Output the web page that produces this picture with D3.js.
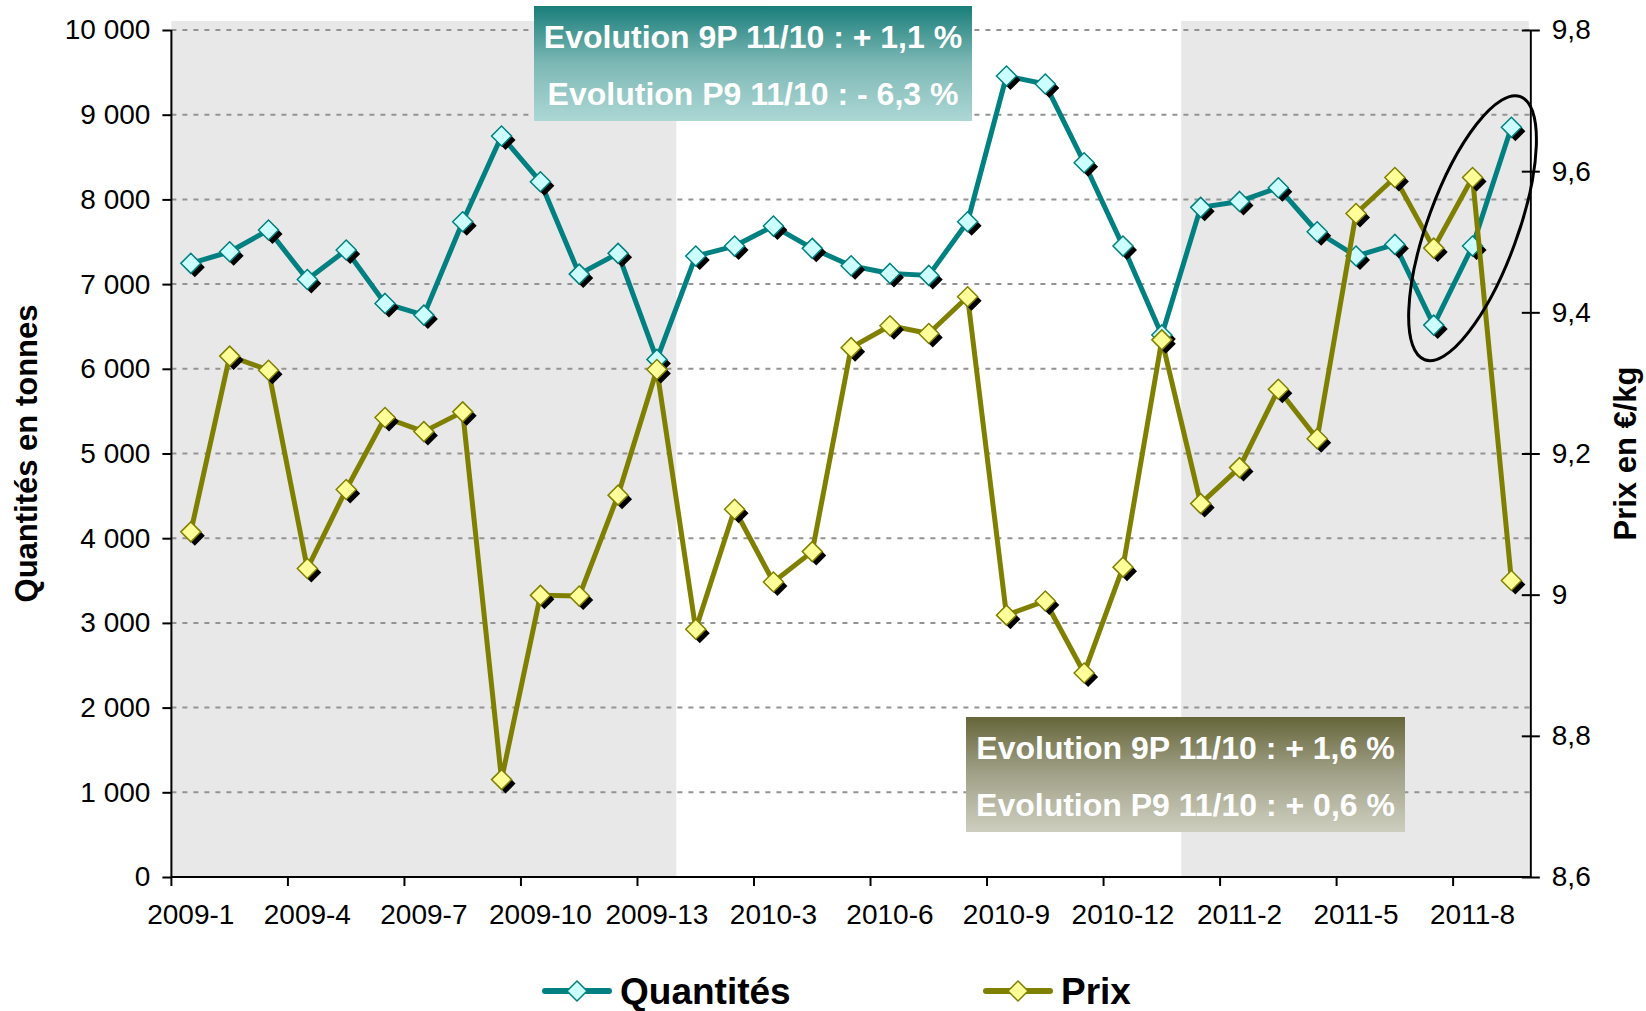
<!DOCTYPE html>
<html>
<head>
<meta charset="utf-8">
<script src="https://cdn.jsdelivr.net/npm/d3@7"></script>
<style>
  html, body { margin: 0; padding: 0; background: #ffffff; }
  svg { display: block; font-family: "Liberation Sans", Arial, sans-serif; }
</style>
</head>
<body>
<svg id="chart" width="1646" height="1011"></svg>
<script>
// Four-week periods, 13 per year
const periods = [
  "2009-1","2009-2","2009-3","2009-4","2009-5","2009-6","2009-7","2009-8","2009-9","2009-10","2009-11","2009-12","2009-13",
  "2010-1","2010-2","2010-3","2010-4","2010-5","2010-6","2010-7","2010-8","2010-9","2010-10","2010-11","2010-12","2010-13",
  "2011-1","2011-2","2011-3","2011-4","2011-5","2011-6","2011-7","2011-8","2011-9"
];
// Volumes in tonnes (left axis)
const quantites = [
  7245, 7382, 7638, 7055, 7402, 6772, 6634, 7736, 8748, 8209, 7118, 7363, 6111,
  7331, 7449, 7685, 7422, 7216, 7126, 7103, 7736, 9457, 9362, 8433, 7449, 6400,
  7906, 7976, 8138, 7618, 7331, 7469, 6516, 7449, 8851
];
// Price in €/kg (right axis)
const prix = [
  9.089, 9.338, 9.318, 9.037, 9.149, 9.251, 9.231, 9.259, 8.738, 8.999, 8.998, 9.141, 9.319,
  8.951, 9.121, 9.018, 9.061, 9.350, 9.381, 9.370, 9.422, 8.971, 8.991, 8.889, 9.039, 9.361,
  9.129, 9.180, 9.291, 9.221, 9.540, 9.591, 9.491, 9.591, 9.020
];
const leftTicks = [0, 1000, 2000, 3000, 4000, 5000, 6000, 7000, 8000, 9000, 10000];
const rightTicks = [8.6, 8.8, 9, 9.2, 9.4, 9.6, 9.8];
const labelledPeriods = periods.filter((d, i) => i % 3 === 0);
const shadedYears = ["2009", "2011"];
const boxQuantites = ["Evolution 9P 11/10 : + 1,1 %", "Evolution P9 11/10 : - 6,3 %"];
const boxPrix = ["Evolution 9P 11/10 : + 1,6 %", "Evolution P9 11/10 : + 0,6 %"];
const seriesNames = ["Quantités", "Prix"];
// highlighted recent periods (ring centre: period, tonnes)
const highlight = ["2011-8", 7660];

const svg = d3.select("#chart");
const L = 171.4, R = 1530.8, T = 30, B = 877;

const x = d3.scaleBand().domain(periods).range([L, R]).padding(0);
const cx = d => x(d) + x.bandwidth() / 2;
const yL = d3.scaleLinear().domain([0, 10000]).range([B, T]);
const yR = d3.scaleLinear().domain([8.6, 9.8]).range([B, T]);

const teal = "#008080", olive = "#808000";
const FONT = "Liberation Sans, Arial, sans-serif";

// shaded years
shadedYears.forEach(yr => {
  const ps = periods.filter(p => p.startsWith(yr));
  const x0 = x(ps[0]), x1 = x(ps[ps.length - 1]) + x.bandwidth();
  svg.append("rect").attr("x", x0).attr("y", T - 9).attr("width", Math.min(x1, R - 2) - x0)
    .attr("height", B - T + 9).attr("fill", "#e8e8e8");
});

// gridlines
svg.append("g").selectAll("line").data(leftTicks.filter(d => d > 0)).join("line")
  .attr("x1", L).attr("x2", R).attr("y1", d => yL(d)).attr("y2", d => yL(d))
  .attr("stroke", "#939393").attr("stroke-width", 2).attr("stroke-dasharray", "5,6");

// left axis
const fmtL = d => d3.format(",")(d).replace(/,/g, " ");
const gL = svg.append("g").attr("transform", `translate(${L},0)`)
  .call(d3.axisLeft(yL).tickValues(leftTicks).tickFormat(fmtL).tickSize(9).tickPadding(12));
gL.select(".domain").attr("stroke", "#000").attr("stroke-width", 2).attr("d", `M0,${T}V${B}`);
gL.selectAll(".tick line").attr("stroke", "#000").attr("stroke-width", 2);
gL.selectAll(".tick text").attr("font-size", 28).attr("fill", "#000").attr("font-family", FONT);

// right axis
const fmtR = d => d3.format("~g")(d).replace(".", ",");
const gR = svg.append("g").attr("transform", `translate(${R},0)`)
  .call(d3.axisRight(yR).tickValues(rightTicks).tickFormat(fmtR).tickSizeInner(9).tickSizeOuter(0).tickPadding(12));
gR.select(".domain").attr("stroke", "#000").attr("stroke-width", 2).attr("d", `M0,${T}V${B}`);
gR.selectAll(".tick line").attr("stroke", "#000").attr("stroke-width", 2).attr("x1", -9);
gR.selectAll(".tick text").attr("font-size", 28).attr("fill", "#000").attr("font-family", FONT);

// bottom axis: labels centred on periods, tick marks at period boundaries
const gB = svg.append("g").attr("transform", `translate(0,${B})`)
  .call(d3.axisBottom(x).tickValues(labelledPeriods).tickSize(0).tickPadding(27));
gB.select(".domain").attr("stroke", "#000").attr("stroke-width", 2).attr("d", `M${L},0H${R}`);
gB.selectAll(".tick text").attr("font-size", 28).attr("fill", "#000").attr("font-family", FONT);
svg.append("g").selectAll("line").data(labelledPeriods).join("line")
  .attr("x1", d => x(d)).attr("x2", d => x(d)).attr("y1", B).attr("y2", B + 9)
  .attr("stroke", "#000").attr("stroke-width", 2);

// axis titles
svg.append("text").attr("transform", `translate(37,${(T + B) / 2}) rotate(-90)`)
  .attr("text-anchor", "middle").attr("font-size", 31).attr("font-weight", "bold").text("Quantités en tonnes");
svg.append("text").attr("transform", `translate(1636,${(T + B) / 2}) rotate(-90)`)
  .attr("text-anchor", "middle").attr("font-size", 31).attr("font-weight", "bold").text("Prix en €/kg");

// series
const diamond = r => `M0,${-r}L${r},0L0,${r}L${-r},0Z`;
function drawSeries(values, yScale, stroke, fill) {
  const g = svg.append("g");
  const pts = values.map((v, i) => [cx(periods[i]), yScale(v)]);
  g.append("path").attr("d", d3.line()(pts)).attr("fill", "none")
    .attr("stroke", stroke).attr("stroke-width", 5).attr("stroke-linejoin", "round");
  g.selectAll(".shadow").data(pts).join("path").attr("class", "shadow")
    .attr("transform", d => `translate(${d[0] + 4},${d[1] + 4})`).attr("d", diamond(10)).attr("fill", "#000");
  g.selectAll(".mark").data(pts).join("path").attr("class", "mark")
    .attr("transform", d => `translate(${d[0]},${d[1]})`).attr("d", diamond(10))
    .attr("fill", fill).attr("stroke", stroke).attr("stroke-width", 1.5);
}
drawSeries(quantites, yL, teal, "#ccffff");
drawSeries(prix, yR, olive, "#ffff99");

// gradient boxes with evolution figures
const defs = svg.append("defs");
function grad(id, stops) {
  const g = defs.append("linearGradient").attr("id", id).attr("x1", 0).attr("x2", 0).attr("y1", 0).attr("y2", 1);
  stops.forEach(([o, c]) => g.append("stop").attr("offset", o).attr("stop-color", c));
}
grad("gTeal", [[0, "#197e7a"], [0.5, "#7db8b5"], [1, "#acd7d5"]]);
grad("gOlive", [[0, "#66663a"], [0.5, "#a2a28a"], [1, "#cdcebe"]]);

function box(x0, y0, w, h, fillId, lines) {
  const g = svg.append("g");
  g.append("rect").attr("x", x0).attr("y", y0).attr("width", w).attr("height", h).attr("fill", `url(#${fillId})`);
  lines.forEach((t, i) => {
    g.append("text").attr("x", x0 + w / 2).attr("y", y0 + 42 + i * 57)
      .attr("text-anchor", "middle").attr("font-size", 32).attr("font-weight", "bold")
      .attr("fill", "#ffffff").text(t);
  });
}
box(534, 6, 438, 115, "gTeal", boxQuantites);
box(966, 717, 439, 115, "gOlive", boxPrix);

// ring around the latest periods
svg.append("ellipse")
  .attr("transform", `translate(${cx(highlight[0])},${yL(highlight[1])}) rotate(-70)`)
  .attr("rx", 140).attr("ry", 45).attr("fill", "none").attr("stroke", "#000").attr("stroke-width", 3);

// legend
const legend = [
  { name: seriesNames[0], stroke: teal, fill: "#ccffff", x: 545 },
  { name: seriesNames[1], stroke: olive, fill: "#ffff99", x: 986 }
];
const lg = svg.append("g");
legend.forEach(d => {
  const yC = 991;
  lg.append("line").attr("x1", d.x).attr("x2", d.x + 64).attr("y1", yC).attr("y2", yC)
    .attr("stroke", d.stroke).attr("stroke-width", 6).attr("stroke-linecap", "round");
  lg.append("path").attr("transform", `translate(${d.x + 32},${yC})`).attr("d", diamond(10))
    .attr("fill", d.fill).attr("stroke", d.stroke).attr("stroke-width", 1.5);
  lg.append("text").attr("x", d.x + 75).attr("y", yC + 13).attr("font-size", 37)
    .attr("font-weight", "bold").attr("fill", "#000").text(d.name);
});
</script>
</body>
</html>
